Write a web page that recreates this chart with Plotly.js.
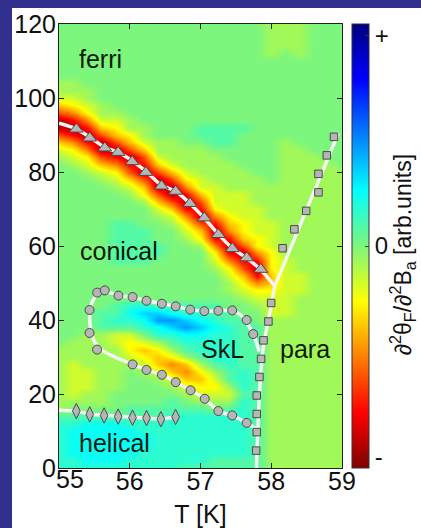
<!DOCTYPE html>
<html><head><meta charset="utf-8">
<script src="https://cdn.plot.ly/plotly-3.0.1.min.js"></script>
<style>
html,body{margin:0;padding:0;background:#31308f;width:421px;height:528px;overflow:hidden}
#chart{position:absolute;left:12px;top:8px;width:409px;height:520px;background:#fff}
</style></head><body><div id="chart"></div>
<script>
// ---- measured field (letters = signal level, rows from y=120 down to y=0) ----
const fieldX = [55.0,55.2,55.4,55.6,55.8,56.0,56.2,56.4,56.6,56.8,57.0,57.2,57.4,57.6,57.8,58.0,58.2,58.4,58.6,58.8,59.0];
const fieldY = [0,2,4,6,8,10,12,14,16,18,20,22,24,26,28,30,32,34,36,38,40,42,44,46,48,50,52,54,56,58,60,62,64,66,68,70,72,74,76,78,80,82,84,86,88,90,92,94,96,98,100,102,104,106,108,110,112,114,116,118,120];
const levelCodes = "ABCDEFGHIJKLMN";
const levelValues = [-0.87,-0.74,-0.6,-0.48,-0.36,-0.26,-0.16,-0.07,0,0.08,0.16,0.23,0.34,0.45];
const fieldRows = [
"IIIIIIIIIIIIIIIHHHIII",
"IIIIIIIIIIIIIIIHHHIII",
"IIIIIIIIIIIIIIIHHHIII",
"IIIIIIIIIIIIIIIHHHIII",
"IIIIIIIIIIIIIIIHIHIII",
"IIIIIIIIIIIIIIIIIIIII",
"IIIIIIIIIIIIIIIIIIIII",
"IIIIIIIIIIIIIIIIIIIII",
"HHIIIIIIIIIIIIIIIIIII",
"HHHIIIIIIIIIIIIIIIIII",
"GGHIIIIIIIIIIIIIIIIII",
"EFGHIIIIIIIIIIIIIIIII",
"CDFHHIIIIIIIIIIIIIIII",
"ABDGGHIIIIIIIIIIIIIII",
"AABEFHHIIIJJJJIIIIIII",
"CBACEFHIIIJJJIIIIIIII",
"EDBACEGHHIIJJIIIHIIII",
"GFDAACEHHHHIIIIIHHIII",
"HGFCBACGHHHHIIIIHHHII",
"IHGEDBBEGHHHHIIIHHHHI",
"IIHGFCACEGHHHHIIHHHHH",
"IIIHGECACFGHHHHIHHHHH",
"IIIIHGEAADGGHHHHHHHHH",
"IIIIIHFCABEGGGHHHHHHH",
"IIIIIIHECACGGGHHHHHHH",
"IIIIIIIGEBBFGGGHHHHHH",
"IIIIIIIHGDADFGGHHHHHH",
"IIIIJJIIHFCBEFGGHHHHH",
"IIIIJJJIIGEADFGGHHHHH",
"IIIIJJJIIHFBBEFGHHHHH",
"IIIIJJJJIIHDACFGHHHHH",
"IIIIJJJJIIIFBADFHHHHH",
"IIIIJJJIIIIGDBBFGHHHH",
"IIIIIIIIIIIHFCAFGHHHH",
"IIIIIIIIIIIIGEBEGGHHH",
"IIIIIIIIIIIIHFDEGGHHH",
"IIIIIIIIIIIIHGFFGGHHH",
"IIIIIIIIIIIIIHGGGHHHH",
"IIIIJKKJJJJJIIHGGHHHH",
"IIIJJLMMLKKJJIIGGHHHH",
"IIIJKKLNNMLKJJIHHHHHH",
"IIIJJJKLMNMLKJJHHHHHH",
"IIHHGGIKKLLKKJJHHHHHH",
"IHHHGFGHJKKKKJJHHHHHH",
"HHHHHFEFHJKKKJJHHHHHH",
"HHHHHGFEFHJKKJJHHHHHH",
"HGHHHHGEDEHJKJJHHHHHH",
"HGGHHIHGEDFHJKJHHHHHH",
"HGGHHIIHGEEGJKJHHHHHH",
"HGGHHIIIHGFFHKJHHHHHH",
"HGHHIIIIIHGGGJJHHHHHH",
"HHHHIIIIJIHHHKJHHHHHH",
"HIIIIJJJJJJIJKJHHHHHH",
"JJJJJJJJKKKKKKJHHHHHH",
"KKLLLKKKKKKKKKJHHHHHH",
"KLLLLLKKKKKKKKJHHHHHH",
"KLLLLLLKKKKKKKJHHHHHH",
"KLLLLLLKKKKKKKJHHHHHH",
"KLLLLLKKKKKKKKJHHHHHH",
"KKLLLKKKKKKJJJJHHHHHH",
"KKKKKKKKKJJJJJJHHHHHH"
];

// ---- phase boundary points ----
const triX = [55.245,55.434,55.647,55.836,56.034,56.228,56.449,56.648,56.851,57.054,57.252,57.450,57.653,57.852];
const triY = [91.6,89.2,86.5,85.3,82.8,79.9,76.2,74.8,71.5,67.6,63.1,59.3,56.8,53.7];
const sqX = [58.16,58.327,58.494,58.667,58.667,58.785,58.886,57.998,57.960,57.890,57.856,57.833,57.795,57.795,57.795,57.786];
const sqY = [59.4,64.5,69.5,74.5,79.5,84.5,89.5,44.6,39.6,34.5,29.5,24.6,19.6,14.6,9.7,4.7];
const circX = [55.54,55.647,55.84,56.04,56.237,56.454,56.65,56.855,57.054,57.252,57.448,57.653,57.745,55.432,55.432,55.538,56.04,56.237,56.454,56.65,56.86,57.06,57.252,57.448,57.653];
const circY = [47.4,48.0,46.6,46.2,45.2,44.4,43.7,42.8,42.4,42.5,42.6,40.0,36.2,42.7,36.5,32.0,28.0,26.5,25.2,23.2,21.0,18.7,15.4,14.2,12.2];
const diamX = [55.245,55.434,55.637,55.836,56.039,56.237,56.44,56.648];
const diamY = [15.4,14.5,14.2,13.9,13.6,13.5,13.2,13.8];

// ---- guide lines ----
const ridgeLineX = [55.0,55.25,55.45,55.65,55.85,56.05,56.25,56.45,56.65,56.85,57.05,57.25,57.45,57.65,57.85,58.05];
const ridgeLineY = [93.2,91.6,89.2,86.6,85.2,82.8,79.8,76.4,74.8,71.5,67.6,63.2,59.4,56.8,53.6,49.2];
const paraUpperX = [58.05,58.25,58.45,58.65,58.85,58.95];
const paraUpperY = [49.2,58.4,67.6,76.8,86.0,90.5];
const paraLowerX = [58.05,57.96,57.89,57.85,57.82,57.80,57.79];
const paraLowerY = [49.2,40,33,25,15,5,0];
const skLoopX = [57.8,57.65,57.44,57.25,57.06,56.86,56.65,56.46,56.24,56.04,55.85,55.68,55.56,55.48,55.44,55.44,55.48,55.56,55.66,55.84,56.04,56.24,56.46,56.65,56.86,57.06,57.25,57.44,57.58,57.68,57.76,57.83];
const skLoopY = [10.5,12.2,14.2,15.4,18.7,21.0,23.2,25.2,26.5,28.0,29.5,31.0,32.6,35.0,38.5,42.5,45.3,47.0,47.8,46.6,46.2,45.2,44.4,43.7,42.8,42.4,42.5,42.5,41.2,38.5,35.5,31.5];
const helLineX = [55.0,55.245,55.434,55.637,55.836,56.039,56.237,56.44,56.648];
const helLineY = [15.6,15.4,14.5,14.2,13.9,13.6,13.5,13.2,13.8];

// ---- labels ----
const phaseNames = ["ferri","conical","SkL","para","helical"];
const phaseX = [55.26,55.27,56.98,58.09,55.26];
const phaseY = [110.6,58.7,32.2,32.2,6.8];
const xTickVals = [55,56,57,58,59];
const xTickText = ["","56","57","58","59"];
const firstXTickLabel = "55";
const yTickVals = [0,20,40,60,80,100,120];
const cbTickVals = [0.95,0,-0.95];
const cbTickText = ["+","0","-"];
const cbTitle = "∂<sup>2</sup>θ<sub>F</sub>/∂<sup>2</sup>B<sub>a</sub> [arb.units]";

// build z (bottom row first)
const zGrid = fieldRows.slice().reverse().map(r => r.split("").map(c => levelValues[levelCodes.indexOf(c)]));

const FONT = "Liberation Sans, Arial, Helvetica, sans-serif";
const jetRev = [[0,"rgb(128,0,0)"],[0.125,"rgb(255,0,0)"],[0.375,"rgb(255,255,0)"],[0.5,"rgb(124,246,124)"],[0.625,"rgb(0,255,255)"],[0.875,"rgb(0,0,255)"],[1,"rgb(0,0,128)"]];

const markerStyle = (sym, size) => ({symbol: sym, size: size, color: "#b6b6b6", line: {color: "#4a4a4a", width: 1}});
const whiteLine = (x, y, shape) => ({x: x, y: y, type: "scatter", mode: "lines", hoverinfo: "skip", line: {color: "#f4f4f4", width: 3.5, shape: shape || "linear", smoothing: 0.8}});

const traces = [
  {type: "heatmap", x: fieldX, y: fieldY, z: zGrid, zmin: -1, zmax: 1, zsmooth: "best", colorscale: jetRev,
   colorbar: {x: 1.0353, xanchor: "left", xpad: 0, y: 0.5, yanchor: "middle", ypad: 0, len: 1.0, lenmode: "fraction",
     thickness: 17, outlinecolor: "#333", outlinewidth: 1, tickvals: cbTickVals, ticktext: cbTickText,
     ticks: "inside", ticklen: 4, tickcolor: "#333", tickfont: {family: FONT, size: 24, color: "#111"}}},
  whiteLine(ridgeLineX, ridgeLineY, "spline"),
  whiteLine(paraUpperX, paraUpperY),
  whiteLine(paraLowerX, paraLowerY, "spline"),
  whiteLine(skLoopX, skLoopY, "spline"),
  whiteLine(helLineX, helLineY),
  {x: triX, y: triY, type: "scatter", mode: "markers", marker: markerStyle("triangle-up", 12)},
  {x: sqX, y: sqY, type: "scatter", mode: "markers", marker: markerStyle("square", 7.5)},
  {x: circX, y: circY, type: "scatter", mode: "markers", marker: markerStyle("circle", 9)},
  {x: diamX, y: diamY, type: "scatter", mode: "markers", marker: markerStyle("diamond-tall", 11)}
];

const annotations = phaseNames.map((t, i) => ({x: phaseX[i], y: phaseY[i], xref: "x", yref: "y", text: t, showarrow: false,
  xanchor: "left", yanchor: "middle", font: {family: FONT, size: 25, color: "#0e1a0e"}}));
annotations.push({x: -0.018, y: -0.025, xref: "paper", yref: "paper", text: firstXTickLabel, showarrow: false,
  xanchor: "left", yanchor: "middle", font: {family: FONT, size: 25, color: "#111"}});
annotations.push({x: 1.215, y: 0.481, xref: "paper", yref: "paper", text: cbTitle, showarrow: false, textangle: -90,
  xanchor: "center", yanchor: "middle", font: {family: FONT, size: 23, color: "#111"}});

const axisBase = {showgrid: false, zeroline: false, showline: true, linecolor: "#222", linewidth: 1, mirror: "ticks",
  ticks: "inside", ticklen: 5, tickcolor: "#222", tickfont: {family: FONT, size: 25, color: "#111"}};

const layout = {
  width: 409, height: 520, margin: {l: 47, r: 79, t: 16, b: 60, autoexpand: false},
  paper_bgcolor: "#ffffff", plot_bgcolor: "#80ff80", showlegend: false,
  xaxis: Object.assign({}, axisBase, {range: [55, 59], tickvals: xTickVals, ticktext: xTickText, ticklabelstandoff: -9,
    title: {text: "T [K]", font: {family: FONT, size: 25, color: "#111"}, standoff: 11}}),
  yaxis: Object.assign({}, axisBase, {range: [0, 120], tickvals: yTickVals, ticklabelstandoff: -3}),
  annotations: annotations
};

Plotly.newPlot("chart", traces, layout, {displayModeBar: false, staticPlot: true});
</script></body></html>
